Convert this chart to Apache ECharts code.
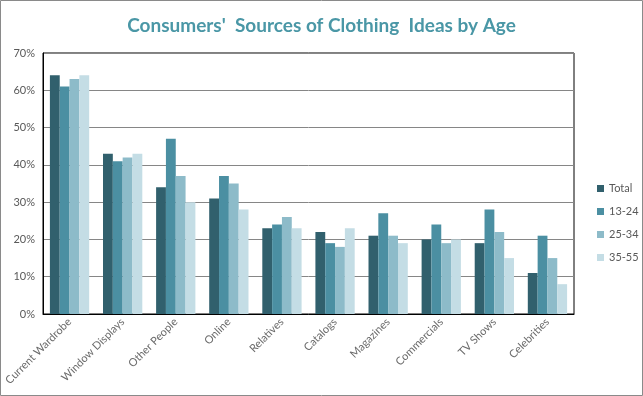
<!DOCTYPE html>
<html>
<head>
<meta charset="utf-8">
<script src="https://cdn.jsdelivr.net/npm/echarts@6/dist/echarts.min.js"></script>
<style>
  html, body { margin: 0; padding: 0; background: #fff; }
  #chart { width: 643px; height: 396px; }
</style>
</head>
<body>
<div id="chart"></div>
<script>
const categories = ['Current Wardrobe', 'Window Displays', 'Other People', 'Online', 'Relatives',
  'Catalogs', 'Magazines', 'Commercials', 'TV Shows', 'Celebrities'];
const total = [64, 43, 34, 31, 23, 22, 21, 20, 19, 11];
const age1324 = [61, 41, 47, 37, 24, 19, 27, 24, 28, 21];
const age2534 = [63, 42, 37, 35, 26, 18, 21, 19, 22, 15];
const age3555 = [64, 43, 30, 28, 23, 23, 19, 20, 15, 8];

const colors = ['#31606d', '#4b8fa2', '#8dbbc9', '#c4dde5'];

const chart = echarts.init(document.getElementById('chart'));

function bar(name, data) {
  return {
    name: name,
    type: 'bar',
    data: data,
    barGap: '0%',
    barCategoryGap: '26%',
  };
}

chart.setOption({
  color: colors,
  animation: false,
  title: {
    text: "Consumers'  Sources of Clothing  Ideas by Age",
    left: 'center',
    top: 11,
    textStyle: {
      color: '#4a97a6',
      fontSize: 19,
      fontWeight: 'bold',
      fontFamily: 'Lato',
    },
  },
  legend: {
    orient: 'vertical',
    left: 592,
    top: 178,
    itemWidth: 7,
    itemHeight: 7,
    itemGap: 12,
    icon: 'rect',
    textStyle: { color: '#595959', fontSize: 11, fontFamily: 'Lato' },
  },
  grid: {
    left: 43,
    right: 69,
    top: 53,
    bottom: 82,
    show: true,
    borderColor: '#000',
    borderWidth: 1,
  },
  xAxis: {
    type: 'category',
    data: categories,
    axisLine: { lineStyle: { color: '#000' } },
    axisTick: { show: false },
    axisLabel: {
      rotate: 45,
      interval: 0,
      color: '#6b6b6b',
      fontSize: 11,
      fontFamily: 'Lato',
      margin: 6,
    },
  },
  yAxis: {
    type: 'value',
    min: 0,
    max: 70,
    interval: 10,
    axisLine: { show: true, lineStyle: { color: '#000' } },
    axisLabel: {
      formatter: '{value}%',
      color: '#595959',
      fontSize: 11,
      fontFamily: 'Lato',
    },
    splitLine: { lineStyle: { color: '#868686' } },
  },
  graphic: [{
    type: 'rect',
    shape: { x: 0.5, y: 0.5, width: 642, height: 395 },
    style: { fill: null, stroke: '#8a8a8a', lineWidth: 1 },
    silent: true,
  }],
  series: [
    bar('Total', total),
    bar('13-24', age1324),
    bar('25-34', age2534),
    bar('35-55', age3555),
  ],
});
</script>
</body>
</html>
